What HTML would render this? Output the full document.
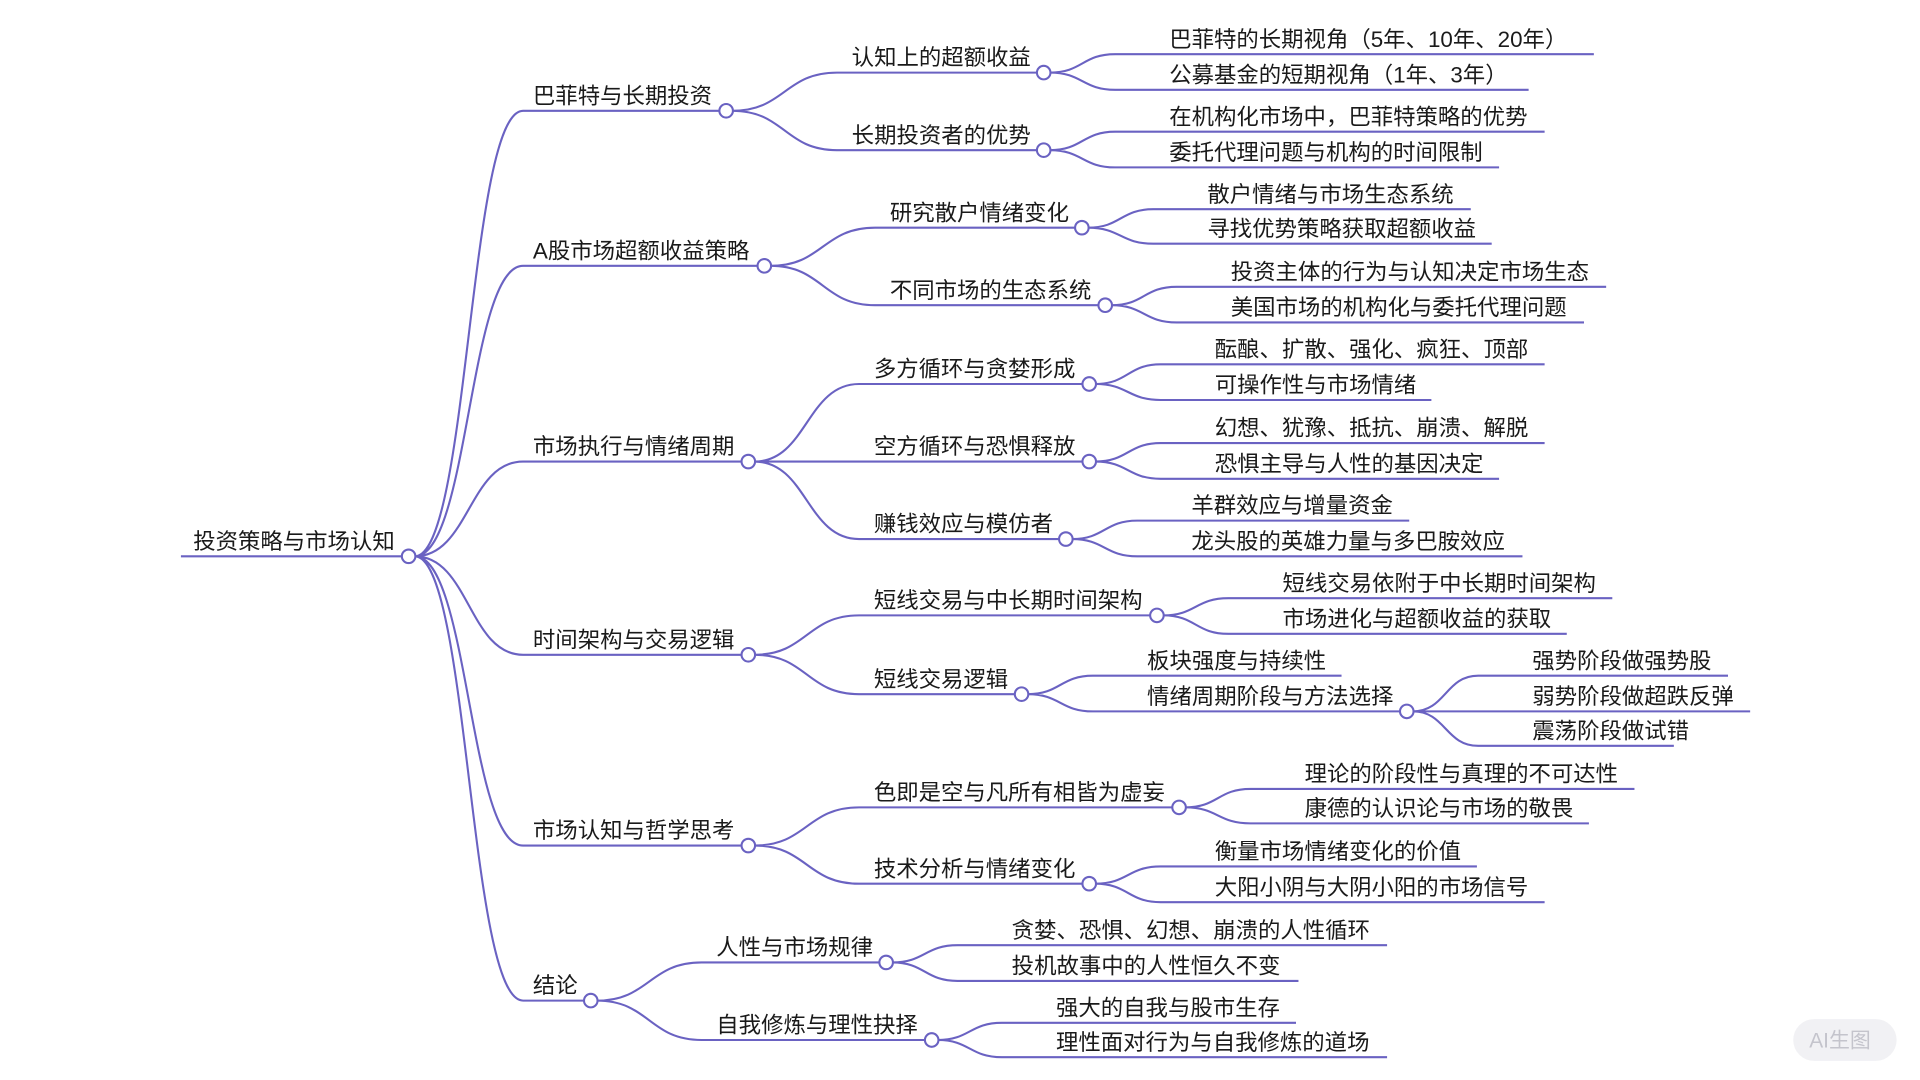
<!DOCTYPE html>
<html><head><meta charset="utf-8">
<style>
html,body{margin:0;padding:0;background:#fff;}
svg{display:block}
text{font-family:"Liberation Sans","Noto Sans CJK SC",sans-serif;font-size:18.2px;fill:#1a1a1a;}
</style></head>
<body>
<svg id="s" width="1920" height="1080" viewBox="0 0 1560 877.5" xmlns="http://www.w3.org/2000/svg">
<g id="edges" fill="none" stroke="#6a62c2" stroke-width="1.7"></g>
<g id="texts">
<text x="157" y="446">投资策略与市场认知</text>
<text x="433" y="84">巴菲特与长期投资</text>
<text x="433" y="210">A股市场超额收益策略</text>
<text x="433" y="369">市场执行与情绪周期</text>
<text x="433" y="526">时间架构与交易逻辑</text>
<text x="433" y="681">市场认知与哲学思考</text>
<text x="433" y="807">结论</text>

<text x="692" y="53">认知上的超额收益</text>
<text x="692" y="116">长期投资者的优势</text>
<text x="723" y="179">研究散户情绪变化</text>
<text x="723" y="242">不同市场的生态系统</text>
<text x="710" y="306">多方循环与贪婪形成</text>
<text x="710" y="369">空方循环与恐惧释放</text>
<text x="710" y="432">赚钱效应与模仿者</text>
<text x="710" y="494">短线交易与中长期时间架构</text>
<text x="710" y="558">短线交易逻辑</text>
<text x="710" y="650">色即是空与凡所有相皆为虚妄</text>
<text x="710" y="712">技术分析与情绪变化</text>
<text x="582" y="776">人性与市场规律</text>
<text x="582" y="839">自我修炼与理性抉择</text>

<text x="950" y="38">巴菲特的长期视角（5年、10年、20年）</text>
<text x="950" y="67">公募基金的短期视角（1年、3年）</text>
<text x="950" y="101">在机构化市场中，巴菲特策略的优势</text>
<text x="950" y="130">委托代理问题与机构的时间限制</text>
<text x="981" y="164">散户情绪与市场生态系统</text>
<text x="981" y="192">寻找优势策略获取超额收益</text>
<text x="1000" y="227">投资主体的行为与认知决定市场生态</text>
<text x="1000" y="256">美国市场的机构化与委托代理问题</text>
<text x="987" y="290">酝酿、扩散、强化、疯狂、顶部</text>
<text x="987" y="319">可操作性与市场情绪</text>
<text x="987" y="354">幻想、犹豫、抵抗、崩溃、解脱</text>
<text x="987" y="383">恐惧主导与人性的基因决定</text>
<text x="968" y="417">羊群效应与增量资金</text>
<text x="968" y="446">龙头股的英雄力量与多巴胺效应</text>
<text x="1042" y="480">短线交易依附于中长期时间架构</text>
<text x="1042" y="509">市场进化与超额收益的获取</text>
<text x="932" y="543">板块强度与持续性</text>
<text x="932" y="572">情绪周期阶段与方法选择</text>
<text x="1245" y="543">强势阶段做强势股</text>
<text x="1245" y="572">弱势阶段做超跌反弹</text>
<text x="1245" y="600">震荡阶段做试错</text>
<text x="1060" y="635">理论的阶段性与真理的不可达性</text>
<text x="1060" y="663">康德的认识论与市场的敬畏</text>
<text x="987" y="698">衡量市场情绪变化的价值</text>
<text x="987" y="727">大阳小阴与大阴小阳的市场信号</text>
<text x="822" y="762">贪婪、恐惧、幻想、崩溃的人性循环</text>
<text x="822" y="791">投机故事中的人性恒久不变</text>
<text x="858" y="825">强大的自我与股市生存</text>
<text x="858" y="853">理性面对行为与自我修炼的道场</text>
</g>
<g id="circles" fill="#fff" stroke="#6a62c2" stroke-width="1.7"></g>
<rect x="1457" y="828" width="84" height="34" rx="17" fill="#f1f1f4"/>
<text x="1470" y="851" style="fill:#c4c4cc;font-size:17px">AI生图</text>
</svg>
<script>
var E=[];
var root=[332,452];
function add(p,y,sx,ex){E.push([p[0],p[1],y,sx,ex]);}
var L1=[[590,90],[621,216],[608,375],[608,532],[608,687],[480,813]];
L1.forEach(function(c){add(root,c[1],425,c[0]);});
var L2=[
 [0,848,59,680],[0,848,122,680],
 [1,879,185,711],[1,898,248,711],
 [2,885,312,698],[2,885,375,698],[2,866,438,698],
 [3,940,500,698],[3,830,564,698],
 [4,958,656,698],[4,885,718,698],
 [5,720,782,570],[5,757,845,570]];
L2.forEach(function(a){add(L1[a[0]],a[2],a[3],a[1]);});
var lv=[
 [848,59,950,44,1295],[848,59,950,73,1242],
 [848,122,950,107,1255],[848,122,950,136,1218],
 [879,185,981,170,1195],[879,185,981,198,1212],
 [898,248,1000,233,1305],[898,248,1000,262,1287],
 [885,312,987,296,1255],[885,312,987,325,1163],
 [885,375,987,360,1255],[885,375,987,389,1218],
 [866,438,968,423,1145],[866,438,968,452,1237],
 [940,500,1042,486,1310],[940,500,1042,515,1273],
 [830,564,932,549,1090],[830,564,932,578,1143],
 [1143,578,1245,549,1404],[1143,578,1245,578,1422],[1143,578,1245,606,1360],
 [958,656,1060,641,1328],[958,656,1060,669,1291],
 [885,718,987,704,1200],[885,718,987,733,1255],
 [720,782,822,768,1127],[720,782,822,797,1055],
 [757,845,858,831,1053],[757,845,858,859,1127]];
lv.forEach(function(a){add([a[0],a[1]],a[3],a[2]-44,a[4]);});
var g=document.getElementById('edges'),NS='http://www.w3.org/2000/svg',d='M147,452 L332,452 ';
E.forEach(function(e){var px=e[0]+5,py=e[1],y=e[2],sx=e[3],m=(px+sx)/2;
 d+='M'+px+','+py+' C'+m+','+py+' '+m+','+y+' '+sx+','+y+' L'+e[4]+','+y+' ';});
var p=document.createElementNS(NS,'path');p.setAttribute('d',d);g.appendChild(p);
var cg=document.getElementById('circles');
var cs=[root].concat(L1,L2.map(function(a){return [a[1],a[2]];}),[[1143,578]]);
cs.forEach(function(c){var k=document.createElementNS(NS,'circle');k.setAttribute('cx',c[0]);k.setAttribute('cy',c[1]);k.setAttribute('r',5.5);cg.appendChild(k);});
</script>
</body></html>
